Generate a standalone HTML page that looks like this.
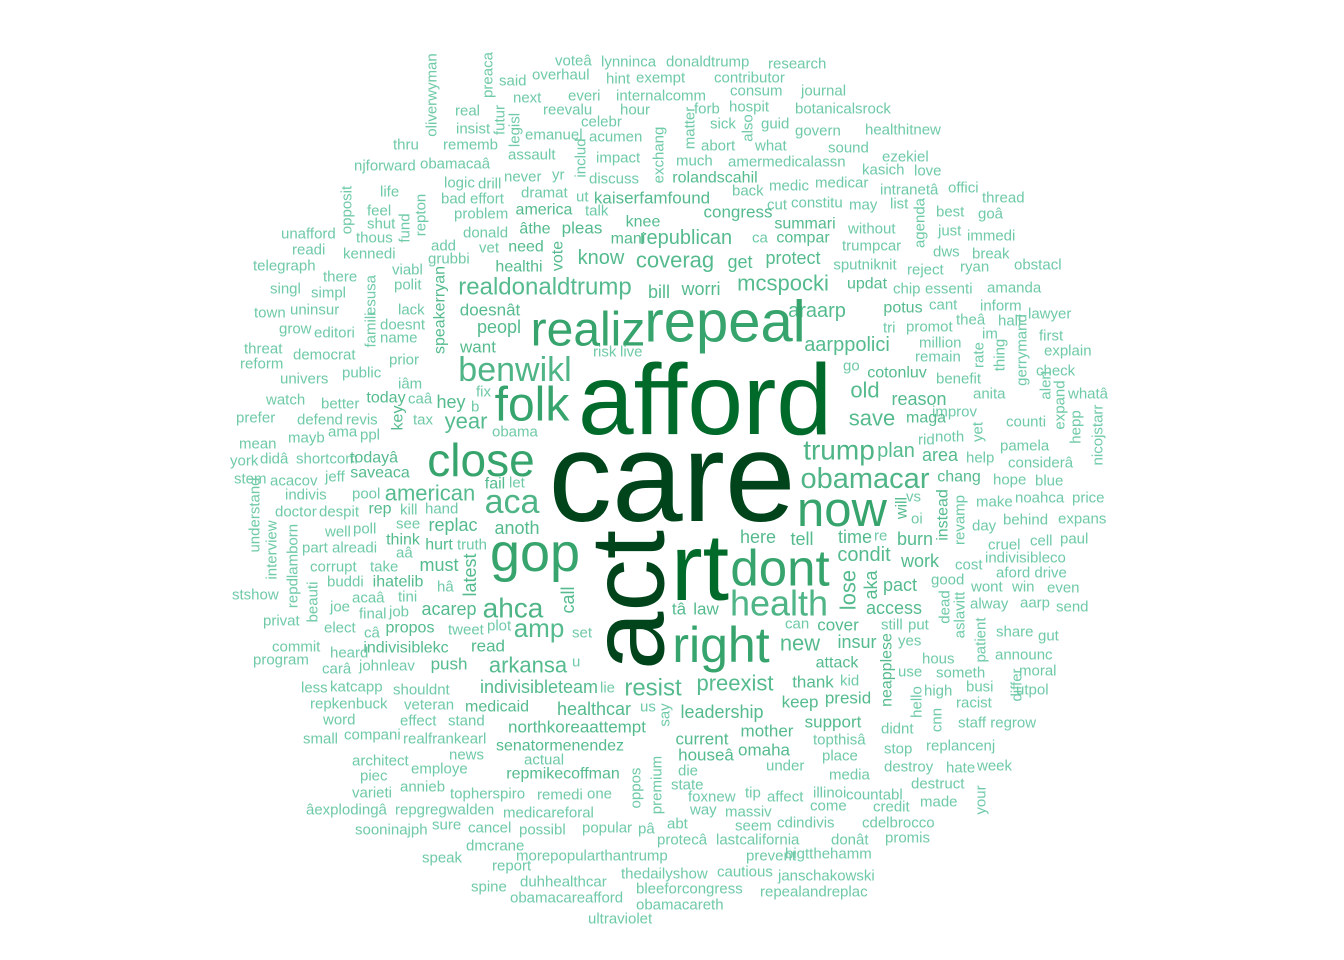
<!DOCTYPE html>
<html><head><meta charset="utf-8">
<style>
html,body{margin:0;padding:0;background:#fff;}
svg{display:block;font-family:"Liberation Sans",Arial,sans-serif;}
</style></head>
<body>
<svg id="cloud" width="1344" height="960" viewBox="0 0 1344 960" xmlns="http://www.w3.org/2000/svg"></svg>
<script>
// Large/medium words: word, size (frequency proxy), centre x, centre y
const bigWords = ["care","act","afford","rt","repeal","gop","dont","right","realiz","now","folk","close","health","benwikl","aca","ahca","obamacar","trump","amp","realdonaldtrump","mcspocki","coverag","american","preexist","resist","arkansa","save","old","year","araarp","aarppolici","new","republican","know","worri","get","protect","bill","updat","peopl","doesnât","want","here","tell","condit","time","burn","work","pact","access","cover","indivisibleteam","healthcar","leadership","keep","presid","support","thank","senatormenendez","northkoreaattempt","houseâ","omaha","current","mother","medicaid","repmikecoffman","acarep","must","hurt","think","replac","fail","anoth","today","hey","todayâ","saveaca","rep","propos","read","push","law","tâ","ihatelib","indivisiblekc","need","âthe","pleas","kaiserfamfound","congress","summari","compar","sputniknit","america","rolandscahil","mani","knee","healthi","cotonluv","potus","reason","maga","plan","area","chang","attack","insur"];
const bigSizes = [127,105,100,95,58,54,51,50,48,49,48,46,36,34,34,28,29,28,26,24,22,22,22,22,24,22,22,22,22,20,20,22,20,20,18,18,18,18,16,18,17,17,18,18,20,18,18,18,18,18,17,18,18,18,17,17,17,17,16,17,17,17,17,17,16,16,18,18,16,16,18,16,18,16,18,16,16,16,16,17,17,17,17,16,16,16,16,17,17,17,16,16,15,16,16,16,16,16,16,16,18,16,20,18,16,16,18,18];
const bigX = [672,628,705,700,725,535,780,721,588,842,532,481,779,515,512,513,865,839,539,545,783,675,430,735,653,528,872,865,466,817,847,800,686,601,701,740,793,659,867,499,490,478,758,802,864,855,915,920,900,894,838,539,594,722,800,848,833,813,560,577,706,764,702,767,497,563,449,439,439,403,453,495,517,386,451,374,380,380,410,488,449,706,679,398,406,526,535,582,652,738,805,803,865,544,715,628,643,519,897,903,919,926,896,940,959,837,857];
const bigY = [477,600,400,568,322,553,568,645,330,510,405,460,603,370,502,608,479,450,628,287,283,260,493,683,688,665,418,390,421,311,345,643,238,258,289,262,258,292,284,327,310,347,537,539,555,537,539,561,585,608,625,687,709,712,702,698,722,682,746,727,755,750,739,731,707,774,609,565,545,540,525,484,528,398,402,458,473,509,628,646,664,609,609,582,648,247,229,228,198,212,224,238,265,210,178,239,222,267,373,308,399,418,451,455,477,663,642];

// Vertical words: word, size, centre x, centre y
const vertWords = ["lose","call","latest","aka","speakerryan","key","instead","revamp","will","neapplese","say","premium","oppos","vote","oliverwyman","preaca","futur","legisl","includ","exchang","matter","also","opposit","fund","repton","famili","esusa","agenda","gerrymand","rate","thing","alert","expand","hepp","nicojstarr","yet","understand","interview","repdlamborn","beauti","dead","aslavitt","patient","differ","cnn","hello","your"];
const vertSizes = [22,18,18,18,16,16,16,15,16,16,15,15,15,16,15,15,15,15,15,15,15,15,15,15,15,15,15,15,15,15,15,15,15,15,15,15,15,15,15,15,15,15,15,15,15,15,15];
const vertX = [848,568,470,871,440,398,943,960,902,887,665,657,636,558,432,488,500,515,581,659,690,748,347,405,421,371,371,920,1022,979,1000,1046,1060,1076,1098,978,255,272,293,313,945,960,981,1017,937,917,981];
const vertY = [590,600,575,585,310,418,515,520,508,670,715,785,788,256,95,75,120,130,158,155,128,128,210,228,215,330,295,223,350,355,355,385,405,427,435,432,515,550,566,602,607,615,640,685,720,702,800];

// Small words: word, left x, centre y (all at the lowest frequency)
const smallWords = ["voteâ","lynninca","donaldtrump","research","said","overhaul","hint","exempt","contributor","next","everi","internalcomm","consum","journal","real","reevalu","hour","forb","hospit","botanicalsrock","insist","celebr","sick","guid","govern","healthitnew","thru","rememb","emanuel","acumen","abort","what","sound","assault","impact","much","amermedicalassn","ezekiel","njforward","obamacaâ","yr","discuss","kasich","love","logic","drill","never","dramat","ut","back","medic","medicar","intranetâ","offici","life","bad","effort","talk","cut","constitu","may","list","thread","feel","problem","best","goâ","shut","without","just","immedi","thous","donald","ca","trumpcar","unafford","readi","add","vet","dws","break","kennedi","grubbi","ryan","obstacl","telegraph","viabl","reject","there","singl","simpl","polit","chip","essenti","amanda","town","uninsur","lack","cant","inform","lawyer","grow","editori","doesnt","hall","theâ","tri","promot","name","im","first","threat","democrat","million","reform","prior","risk","live","remain","explain","iâm","public","univers","check","benefit","anita","watch","better","caâ","fix","b","improv","whatâ","prefer","defend","revis","tax","counti","mayb","ama","ppl","obama","rid","noth","pamela","mean","york","didâ","shortcom","help","considerâ","stem","acacov","jeff","hope","blue","vs","make","noahca","price","indivis","pool","let","doctor","despit","kill","hand","oi","behind","expans","see","day","well","poll","part","alreadi","aâ","truth","re","cruel","cell","paul","corrupt","take","indivisibleco","cost","tini","aford drive","acaâ","hâ","good","wont","win","even","joe","final","job","alway","aarp","send","stshow","buddi","privat","elect","câ","tweet","plot","set","still","put","share","gut","commit","yes","heard","announc","program","carâ","johnleav","u","hous","someth","moral","less","katcapp","shouldnt","use","high","busi","utpol","repkenbuck","veteran","racist","word","effect","stand","staff regrow","small","compani","realfrankearl","topthisâ","didnt","stop","replancenj","news","actual","architect","place","under","week","piec","employe","die","media","destroy","hate","annieb","state","illinoi","destruct","varieti","topherspiro","remedi","one","foxnew","tip","affect","countabl","âexplodingâ","repgregwalden","way","massiv","come","credit","made","medicareforal","sooninajph","sure","cancel","possibl","popular","pâ","abt","seem","cdindivis","cdelbrocco","lastcalifornia","protecâ","donât","promis","dmcrane","speak","morepopularthantrump","prevent","bigtthehamm","report","thedailyshow","cautious","janschakowski","spine","duhhealthcar","bleeforcongress","repealandreplac","obamacareafford","obamacareth","ultraviolet","lie","us","can","kid","go"];
const smallX = [555,601,666,768,499,532,606,636,714,513,568,616,730,801,455,543,620,694,729,795,456,581,710,761,795,865,393,443,525,589,701,755,828,508,596,676,728,882,354,420,552,589,862,914,444,478,504,521,576,732,769,815,880,948,380,441,470,585,767,791,849,890,982,367,454,936,978,367,848,938,967,356,463,752,842,281,292,431,479,933,972,343,428,960,1014,253,392,907,323,270,311,394,893,925,987,254,290,398,929,980,1028,279,314,380,998,956,883,906,380,982,1039,244,293,919,240,389,593,620,915,1044,398,342,280,1036,936,973,266,321,408,476,471,932,1068,236,297,346,413,1006,288,328,360,492,918,935,1000,239,230,260,296,966,1008,234,270,325,993,1035,906,976,1015,1072,285,352,509,275,319,400,425,911,1003,1058,396,972,325,353,302,332,396,457,874,988,1030,1060,310,370,985,955,398,996,352,437,931,971,1012,1047,330,359,389,970,1020,1056,232,327,263,324,364,448,487,572,881,908,996,1038,272,898,330,995,253,322,359,572,922,936,1019,301,330,393,898,924,966,1016,310,404,956,323,400,448,958,303,344,403,813,881,884,926,449,524,352,822,766,977,360,411,678,829,884,946,400,671,813,911,352,450,537,587,688,745,767,846,306,395,690,725,810,873,920,503,355,432,468,519,582,638,667,735,777,862,716,657,831,885,466,422,516,746,785,492,621,717,778,471,520,636,760,510,636,588,600,640,785,840,843];
const smallY = [61,62,62,64,81,75,79,78,78,98,96,96,91,91,111,110,110,109,107,109,129,122,124,124,131,130,145,145,135,137,146,146,148,155,158,161,162,157,166,164,175,179,170,171,183,184,177,193,197,191,186,183,190,188,192,199,199,211,205,203,205,204,198,211,214,212,214,224,229,231,236,238,233,238,246,234,250,246,248,252,254,254,259,267,265,266,270,270,277,289,293,285,289,289,288,313,310,310,305,306,314,329,333,325,321,320,328,327,338,334,336,349,355,343,364,360,352,352,357,351,384,373,379,371,379,394,400,404,399,392,407,412,394,418,420,420,420,422,438,432,435,432,440,437,446,444,461,459,459,458,463,479,481,477,480,481,497,502,498,498,495,494,483,512,512,510,509,519,520,519,524,526,532,529,548,548,553,545,536,545,541,539,567,567,558,565,597,573,598,587,580,587,587,588,607,614,612,604,603,607,595,582,621,628,633,630,626,633,625,625,632,636,647,641,653,655,660,669,666,662,659,673,671,688,687,690,672,691,687,690,704,705,703,720,721,721,723,739,735,739,740,729,749,746,755,760,761,756,766,766,776,769,771,775,767,768,787,785,793,784,793,794,795,794,797,793,797,795,810,810,810,812,806,807,802,813,830,825,828,830,828,829,824,826,823,823,840,840,840,838,846,858,856,856,854,866,874,872,876,887,882,889,892,898,905,919,688,707,624,681,366];

function colorFor(s){
  if (s >= 105) return "#00441b";
  if (s >= 60) return "#006a2b";
  if (s >= 40) return "#36a46c";
  if (s >= 28) return "#4fb587";
  if (s >= 16) return "#55bb8e";
  return "#6fcaa7";
}
const NS = "http://www.w3.org/2000/svg";
const svg = document.getElementById("cloud");
function addWord(w, s, x, y, anchor, vertical){
  const t = document.createElementNS(NS, "text");
  
  
  t.setAttribute("x", x);
  t.setAttribute("y", y);
  t.setAttribute("font-size", s);
  t.setAttribute("fill", colorFor(s));
  t.setAttribute("text-anchor", anchor);
  t.setAttribute("dominant-baseline", "central");
  if (vertical) t.setAttribute("transform", "rotate(-90 " + x + " " + y + ")");
  t.textContent = w;
  svg.appendChild(t);
}
for (let i = 0; i < smallWords.length; i++) addWord(smallWords[i], 15, smallX[i], smallY[i], "start", false);
for (let i = 0; i < vertWords.length; i++) addWord(vertWords[i], vertSizes[i], vertX[i], vertY[i], "middle", true);
for (let i = bigWords.length - 1; i >= 0; i--) addWord(bigWords[i], bigSizes[i], bigX[i], bigY[i], "middle", bigWords[i] === "act");
</script>
</body></html>
